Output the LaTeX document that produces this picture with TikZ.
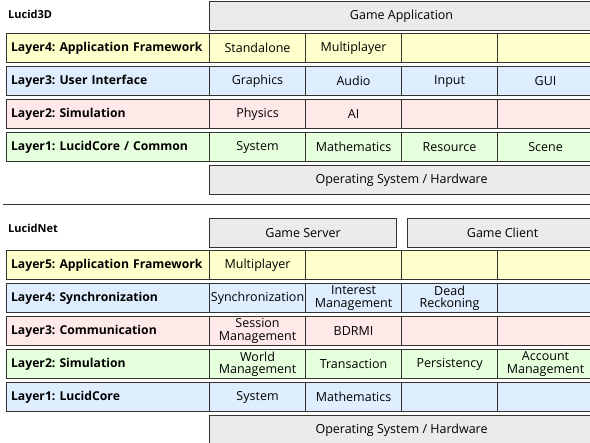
\documentclass[tikz,border=0pt]{standalone}
\usepackage{fontspec}
\setmainfont{Open Sans}
\frenchspacing
\definecolor{cyel}{HTML}{FFFFCC}
\definecolor{cblu}{HTML}{DFEEFF}
\definecolor{cpnk}{HTML}{FFE8E8}
\definecolor{cgrn}{HTML}{E6FFDD}
\definecolor{cgry}{HTML}{EBEBEB}
\definecolor{cbrd}{HTML}{333333}
\tikzset{
  box/.style={draw=cbrd, line width=1.1pt, minimum height=29pt, inner sep=0pt,
    anchor=north west, align=center, font=\fontsize{12.5}{12.5}\selectfont},
  cell/.style={box, minimum width=96pt},
  lab/.style={box, align=left, text width=194pt, inner xsep=4.5pt,
    font=\fontsize{12.2}{13}\selectfont\bfseries},
  wide/.style={box, fill=cgry, minimum width=384pt},
  title/.style={anchor=west, inner sep=0pt, font=\fontsize{11}{13}\selectfont\bfseries},
}
\begin{document}
\begin{tikzpicture}[x=1pt,y=-1pt]
\useasboundingbox (0,0) rectangle (590,443);
\clip (0,0) rectangle (590,443);
% ---------------- Lucid3D ----------------
\node[title] (t1) at (8,14) {Lucid3D};
\node[wide] (ga) at (209,1) {Game Application};
% Layer4
\node[lab,fill=cyel] (a4) at (6,33) {Layer4: Application Framework};
\node[cell,fill=cyel] (a41) at (209,33) {Standalone};
\node[cell,fill=cyel] (a42) at (305,33) {Multiplayer};
\node[cell,fill=cyel] (a43) at (401,33) {};
\node[cell,fill=cyel] (a44) at (497,33) {};
% Layer3
\node[lab,fill=cblu] (a3) at (6,66) {Layer3: User Interface};
\node[cell,fill=cblu] (a31) at (209,66) {Graphics};
\node[cell,fill=cblu] (a32) at (305,66) {Audio};
\node[cell,fill=cblu] (a33) at (401,66) {Input};
\node[cell,fill=cblu] (a34) at (497,66) {GUI};
% Layer2
\node[lab,fill=cpnk] (a2) at (6,99) {Layer2: Simulation};
\node[cell,fill=cpnk] (a21) at (209,99) {Physics};
\node[cell,fill=cpnk] (a22) at (305,99) {AI};
\node[cell,fill=cpnk] (a23) at (401,99) {};
\node[cell,fill=cpnk] (a24) at (497,99) {};
% Layer1
\node[lab,fill=cgrn] (a1) at (6,132) {Layer1: LucidCore / Common};
\node[cell,fill=cgrn] (a11) at (209,132) {System};
\node[cell,fill=cgrn] (a12) at (305,132) {Mathematics};
\node[cell,fill=cgrn] (a13) at (401,132) {Resource};
\node[cell,fill=cgrn] (a14) at (497,132) {Scene};
\node[wide] (os1) at (209,165) {Operating System / Hardware};
% separator
\coordinate (s1) at (3,205);
\coordinate (s2) at (592,205);
\draw[draw=cbrd, line width=1pt] (s1) -- (s2);
% ---------------- LucidNet ----------------
\node[title] (t2) at (8,228) {LucidNet};
\node[box,fill=cgry,minimum width=187pt] (gs) at (209,218) {Game Server};
\node[box,fill=cgry,minimum width=190pt] (gc) at (407,218) {Game Client};
% Layer5
\node[lab,fill=cyel] (b5) at (6,250) {Layer5: Application Framework};
\node[cell,fill=cyel] (b51) at (209,250) {Multiplayer};
\node[cell,fill=cyel] (b52) at (305,250) {};
\node[cell,fill=cyel] (b53) at (401,250) {};
\node[cell,fill=cyel] (b54) at (497,250) {};
% Layer4
\node[lab,fill=cblu] (b4) at (6,283) {Layer4: Synchronization};
\node[cell,fill=cblu] (b41) at (209,283) {Synchronization};
\node[cell,fill=cblu] (b42) at (305,283) {Interest\\Management};
\node[cell,fill=cblu] (b43) at (401,283) {Dead\\Reckoning};
\node[cell,fill=cblu] (b44) at (497,283) {};
% Layer3
\node[lab,fill=cpnk] (b3) at (6,316) {Layer3: Communication};
\node[cell,fill=cpnk] (b31) at (209,316) {Session\\Management};
\node[cell,fill=cpnk] (b32) at (305,316) {BDRMI};
\node[cell,fill=cpnk] (b33) at (401,316) {};
\node[cell,fill=cpnk] (b34) at (497,316) {};
% Layer2
\node[lab,fill=cgrn] (b2) at (6,349) {Layer2: Simulation};
\node[cell,fill=cgrn] (b21) at (209,349) {World\\Management};
\node[cell,fill=cgrn] (b22) at (305,349) {Transaction};
\node[cell,fill=cgrn] (b23) at (401,349) {Persistency};
\node[cell,fill=cgrn] (b24) at (497,349) {Account\\Management};
% Layer1
\node[lab,fill=cblu] (b1) at (6,382) {Layer1: LucidCore};
\node[cell,fill=cblu] (b11) at (209,382) {System};
\node[cell,fill=cblu] (b12) at (305,382) {Mathematics};
\node[cell,fill=cblu] (b13) at (401,382) {};
\node[cell,fill=cblu] (b14) at (497,382) {};
\node[wide] (os2) at (209,415) {Operating System / Hardware};
\end{tikzpicture}
\end{document}
